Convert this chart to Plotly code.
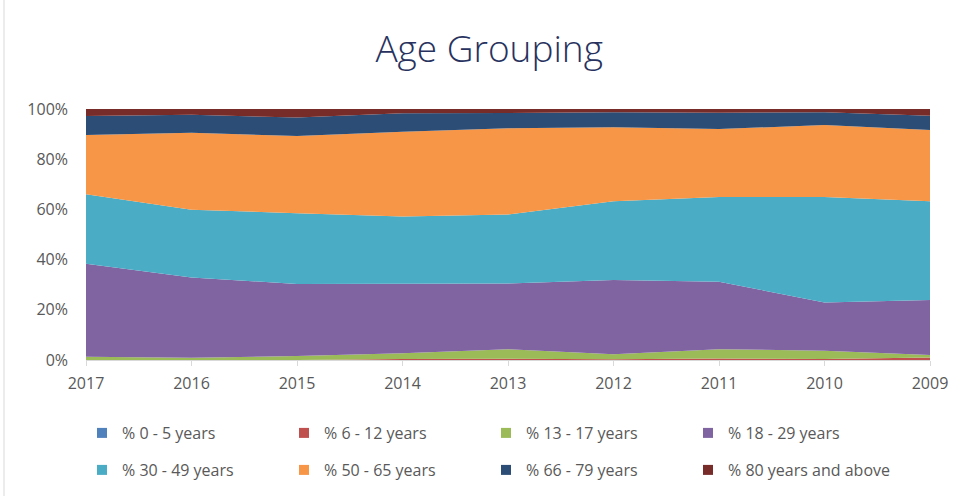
import plotly.graph_objects as go

years = ["2017", "2016", "2015", "2014", "2013", "2012", "2011", "2010", "2009"]

age_0_5 = [0, 0, 0, 0, 0, 0, 0, 0, 0]
age_6_12 = [0, 0, 0, 0.4, 0.5, 0.3, 0.6, 0.4, 1.0]
age_13_17 = [1.3, 0.9, 1.6, 2.3, 3.8, 2.0, 3.7, 3.3, 1.0]
age_18_29 = [37.0, 32.0, 28.7, 27.8, 26.2, 29.6, 26.9, 19.2, 21.9]
age_30_49 = [27.7, 27.0, 28.2, 26.7, 27.5, 31.3, 33.7, 42.0, 39.3]
age_50_65 = [23.6, 30.6, 30.7, 33.7, 34.3, 29.5, 27.1, 28.7, 28.4]
age_66_79 = [7.6, 7.2, 7.4, 7.4, 6.1, 6.0, 6.5, 5.1, 5.7]
age_80_up = [2.8, 2.3, 3.4, 1.7, 1.6, 1.3, 1.5, 1.3, 2.7]

series_names = ["% 0 - 5 years", "% 6 - 12 years", "% 13 - 17 years", "% 18 - 29 years",
                "% 30 - 49 years", "% 50 - 65 years", "% 66 - 79 years", "% 80 years and above"]
series_values = [age_0_5, age_6_12, age_13_17, age_18_29, age_30_49, age_50_65, age_66_79, age_80_up]
colors = ["#4F81BD", "#C0504D", "#9BBB59", "#8064A2", "#4BACC6", "#F79646", "#2C4D75", "#772C2A"]

y_tick_vals = [0, 20, 40, 60, 80, 100]
y_tick_text = ["0%", "20%", "40%", "60%", "80%", "100%"]

FONT = "Open Sans"
GRAY = "#595959"

fig = go.Figure()
for name, vals, col in zip(series_names, series_values, colors):
    fig.add_trace(go.Scatter(
        x=years, y=vals, name=name, mode="lines", stackgroup="one",
        line=dict(width=0, color=col), fillcolor=col, showlegend=False,
        legendgroup=name,
    ))

for i, (name, col) in enumerate(zip(series_names, colors)):
    fig.add_trace(go.Scatter(
        x=[None], y=[None], name=name, mode="markers",
        marker=dict(symbol="square", size=10, color=col),
        legendgroup=name, showlegend=True,
        legend="legend" if i < 4 else "legend2",
    ))

legend_common = dict(
    orientation="h", xanchor="left", yanchor="middle",
    font=dict(family=FONT, size=16, color=GRAY),
    entrywidth=157, entrywidthmode="pixels",
    bgcolor="rgba(0,0,0,0)", itemclick=False, itemdoubleclick=False,
)

PW, PH = 844, 251

fig.update_layout(
    width=961, height=496,
    margin=dict(l=86, r=31, t=109, b=136, autoexpand=False),
    paper_bgcolor="white", plot_bgcolor="white",
    title=dict(text="Age Grouping", x=0.509, xref="container", xanchor="center",
               y=1 - 49 / 496, yref="container", yanchor="middle",
               font=dict(family="Open Sans", size=37, color="#27325E", weight=300)),
    xaxis=dict(type="category", range=[0, 8], showgrid=False,
               showline=True, linecolor="#D9D9D9", linewidth=1,
               ticks="outside", ticklen=5, tickcolor="#D9D9D9", ticklabelstandoff=4,
               tickfont=dict(family=FONT, size=16, color=GRAY)),
    yaxis=dict(range=[0, 100], tickvals=y_tick_vals, ticktext=y_tick_text,
               showgrid=False, zeroline=False, showline=False, ticklabelstandoff=17,
               tickfont=dict(family=FONT, size=16, color=GRAY)),
    legend=dict(x=(82 - 86) / PW, y=-(433 - 360) / PH, **legend_common),
    legend2=dict(x=(82 - 86) / PW, y=-(470 - 360) / PH, **legend_common),
    shapes=[dict(type="line", xref="paper", yref="paper",
                 x0=(4 - 86) / PW, x1=(4 - 86) / PW, y0=-(496 - 360) / PH, y1=360 / PH,
                 line=dict(color="#D9D9D9", width=1))],
    showlegend=True,
)

fig.write_html("out.html", config={"displayModeBar": False},
               post_script="document.body.style.margin='0px';")
